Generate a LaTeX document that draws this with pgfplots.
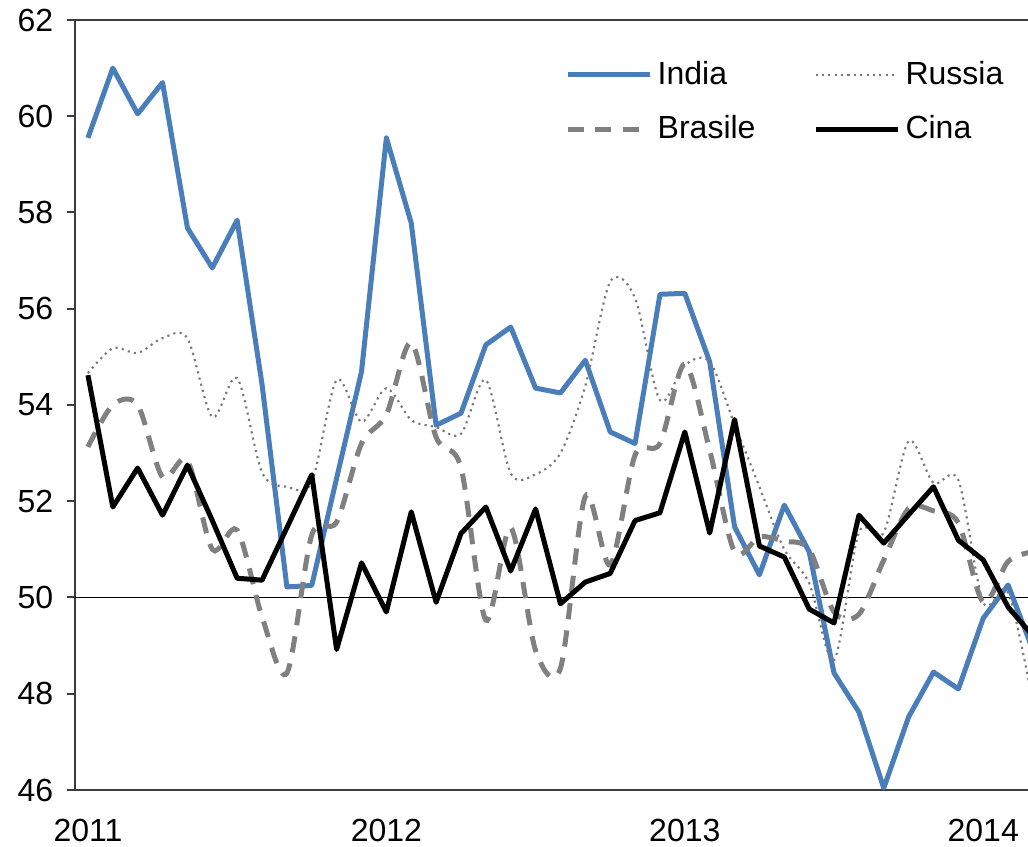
\documentclass[border=0pt]{standalone}
\usepackage{fontspec}
\setmainfont{Liberation Sans}
\usepackage{pgfplots}
\pgfplotsset{compat=1.18}
\definecolor{indiablue}{RGB}{74,126,187}
\definecolor{brgray}{RGB}{128,128,128}
\definecolor{rugray}{RGB}{120,120,120}
\definecolor{axisgray}{RGB}{60,60,60}

\pgfplotstableread{
m india russia brasile cina
0 59.55 54.66 53.13 54.62
1 61.00 55.18 54.00 51.88
2 60.05 55.08 54.00 52.69
3 60.70 55.39 52.50 51.71
4 57.68 55.39 52.85 52.75
5 56.85 53.75 51.00 51.60
6 57.84 54.56 51.40 50.40
7 54.43 52.60 49.60 50.36
8 50.22 52.30 48.43 51.45
9 50.25 52.40 51.30 52.55
10 52.48 54.52 51.57 48.92
11 54.69 53.65 53.20 50.72
12 59.55 54.35 53.80 49.70
13 57.78 53.69 55.30 51.78
14 53.58 53.54 53.33 49.90
15 53.83 53.40 52.70 51.33
16 55.25 54.52 49.53 51.88
17 55.62 52.58 51.45 50.55
18 54.35 52.56 48.90 51.84
19 54.25 53.00 48.53 49.87
20 54.93 54.40 52.10 50.32
21 53.44 56.56 50.68 50.50
22 53.20 56.22 52.96 51.60
23 56.30 54.10 53.20 51.76
24 56.32 54.83 54.85 53.44
25 54.90 54.90 53.06 51.34
26 51.47 53.60 50.95 53.70
27 50.47 52.30 51.26 51.07
28 51.92 51.00 51.17 50.84
29 50.95 50.30 51.00 49.76
30 48.43 48.70 49.70 49.47
31 47.62 51.35 49.65 51.71
32 46.04 51.35 50.78 51.13
33 47.52 53.25 51.85 51.72
34 48.45 52.38 51.80 52.30
35 48.10 52.44 51.55 51.19
36 49.57 49.90 49.90 50.78
37 50.26 50.10 50.75 49.80
38 48.90 47.80 50.95 49.20
}\datatable

\begin{document}
\begin{tikzpicture}[x=1pt,y=1pt]
\useasboundingbox (-30pt,-22.8pt) rectangle (381.2pt,316pt);
\begin{axis}[
  at={(0pt,0pt)}, anchor=south west,
  scale only axis, width=381.2pt, height=308pt,
  xmin=-0.52, xmax=37.8, ymin=46, ymax=62,
  axis x line*=box, axis y line*=left,
  axis line style={axisgray, line width=0.8pt},
  ytick={46,48,...,62},
  xtick={0,12,24,36}, xticklabels={2011,2012,2013,2014},
  x tick style={draw=none},
  y tick style={axisgray, line width=0.8pt},
  tick align=outside, major tick length=3.2pt,
  tick label style={font=\fontsize{12.8}{15}\selectfont},
  xticklabel style={yshift=-4.8pt},
  yticklabel style={xshift=-2pt},
  /pgf/number format/assume math mode=true,
  legend columns=2,
  legend cell align=left,
  legend style={at={(0.506,0.96)}, anchor=north west, draw=none, fill=none,
    font=\fontsize{12.8}{15}\selectfont, row sep=7pt,
    /tikz/every even column/.append style={column sep=21pt}},
  legend image code/.code={\draw[#1] (0pt,0pt) -- (33pt,0pt);},
  clip=true,
]
\addplot[black, line width=0.6pt, forget plot] coordinates {(-1,50) (40,50)};
\addplot[indiablue, line width=2pt, line join=round] table[x=m, y=india] {\datatable};
\addlegendentry{India}
\addplot[rugray, line width=0.85pt, dash pattern=on 0.85pt off 1.7pt, smooth, tension=0.5] table[x=m, y=russia] {\datatable};
\addlegendentry{Russia}
\addplot[brgray, line width=2pt, dash pattern=on 6.5pt off 4.5pt, smooth, tension=0.5] table[x=m, y=brasile] {\datatable};
\addlegendentry{Brasile}
\addplot[black, line width=2pt, line join=round] table[x=m, y=cina] {\datatable};
\addlegendentry{Cina}
\end{axis}
\end{tikzpicture}
\end{document}
